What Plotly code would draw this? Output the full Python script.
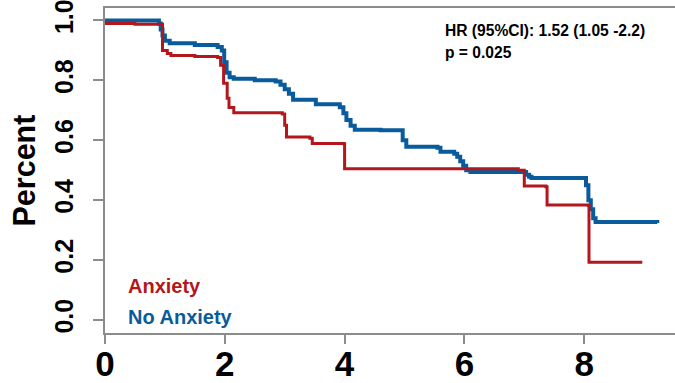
import plotly.graph_objects as go

# Kaplan-Meier estimates (time in years, survival proportion after each event)
anx_time = [0, 0.5, 0.96, 1.04, 1.1, 1.5, 1.88, 1.93, 1.98, 2.04, 2.07, 2.15,
            2.96, 3.0, 3.03, 3.42, 3.46, 3.98, 4.0, 6.9, 7.0, 7.36, 7.38,
            8.07, 8.08, 8.97]
anx_surv = [0.99, 0.987, 0.90, 0.89, 0.883, 0.88, 0.876, 0.85, 0.79, 0.74, 0.709, 0.692,
            0.688, 0.65, 0.611, 0.607, 0.589, 0.588, 0.505, 0.50, 0.447, 0.445, 0.384,
            0.382, 0.193, 0.193]

noanx_time = [0, 0.90, 0.93, 0.96, 1.00, 1.08, 1.5, 1.88, 1.95, 1.99, 2.03, 2.08,
              2.15, 2.5, 2.85, 2.93, 3.0, 3.07, 3.14, 3.52, 3.92, 3.98, 4.03,
              4.1, 4.17, 4.6, 4.97, 5.03, 5.55, 5.6, 5.83, 5.88, 5.93, 5.98,
              6.03, 6.1, 7.03, 7.08, 7.12, 8.03, 8.07, 8.11, 8.15, 8.19, 9.22]
noanx_surv = [1.0, 0.99, 0.97, 0.95, 0.932, 0.924, 0.918, 0.911, 0.90, 0.86, 0.825, 0.81,
              0.805, 0.80, 0.796, 0.785, 0.77, 0.755, 0.735, 0.72, 0.71, 0.69, 0.668,
              0.648, 0.635, 0.633, 0.60, 0.578, 0.575, 0.562, 0.555, 0.545, 0.53, 0.515,
              0.50, 0.494, 0.485, 0.478, 0.474, 0.45, 0.40, 0.37, 0.34, 0.327, 0.324]

x_ticks = [0, 2, 4, 6, 8]
y_ticks = [0.0, 0.2, 0.4, 0.6, 0.8, 1.0]
y_tick_text = ["0.0", "0.2", "0.4", "0.6", "0.8", "1.0"]

RED = "#B3171C"
BLUE = "#0A5B9B"
AXIS_GREY = "#8C8C8C"
FONT = "Liberation Sans, Arial, sans-serif"

W, H = 675, 383
ML, MR, MT, MB = 105, 0, 8, 43
PW, PH = W - ML - MR, H - MT - MB


def px(xp):
    return (xp - ML) / PW


def py(yp):
    return (H - MB - yp) / PH


fig = go.Figure()
fig.add_trace(go.Scatter(x=noanx_time, y=noanx_surv, mode="lines",
                         line=dict(color=BLUE, width=4, shape="hv"),
                         showlegend=False, hoverinfo="skip"))
fig.add_trace(go.Scatter(x=anx_time, y=anx_surv, mode="lines",
                         line=dict(color=RED, width=3, shape="hv"),
                         showlegend=False, hoverinfo="skip"))

fig.update_layout(
    width=W, height=H,
    margin=dict(l=ML, r=MR, t=MT, b=MB),
    paper_bgcolor="white", plot_bgcolor="white",
    xaxis=dict(range=[0, PW / 59.9], tickvals=x_ticks, ticktext=[str(v) for v in x_ticks],
               showgrid=False, zeroline=False, showline=True, mirror=True,
               linecolor=AXIS_GREY, linewidth=2, ticks="outside", ticklen=9,
               tickwidth=2, tickcolor=AXIS_GREY, ticklabelstandoff=-10,
               ticklabeloverflow="allow",
               tickfont=dict(family=FONT, size=35, color="black", weight="bold")),
    yaxis=dict(range=[-0.0435, 1.0415], tickvals=y_ticks, ticktext=y_tick_text,
               showgrid=False, zeroline=False, showline=True, mirror=False,
               linecolor=AXIS_GREY, linewidth=2, ticks="outside", ticklen=10,
               tickwidth=2, tickcolor=AXIS_GREY, tickangle=-90, ticklabelstandoff=10,
               ticklabeloverflow="allow",
               tickfont=dict(family=FONT, size=25, color="black", weight="bold")),
)

annots = [
    dict(text="Percent", x=px(23), y=0.5, textangle=-90,
         font=dict(family=FONT, size=30.5, color="black", weight="bold")),
    dict(text="HR (95%CI): 1.52 (1.05 -2.2)", x=px(443), y=py(31), xanchor="left",
         font=dict(family=FONT, size=15.6, color="black", weight="bold")),
    dict(text="p = 0.025", x=px(443), y=py(53), xanchor="left",
         font=dict(family=FONT, size=15.6, color="black", weight="bold")),
    dict(text="Anxiety", x=px(126), y=py(292), xanchor="left",
         font=dict(family=FONT, size=20, color=RED, weight="bold")),
    dict(text="No Anxiety", x=px(126), y=py(324), xanchor="left",
         font=dict(family=FONT, size=20, color=BLUE, weight="bold")),
]
for a in annots:
    a.setdefault("xanchor", "center")
    fig.add_annotation(xref="paper", yref="paper", showarrow=False,
                       yanchor="middle", **a)

fig.write_html("out.html")
